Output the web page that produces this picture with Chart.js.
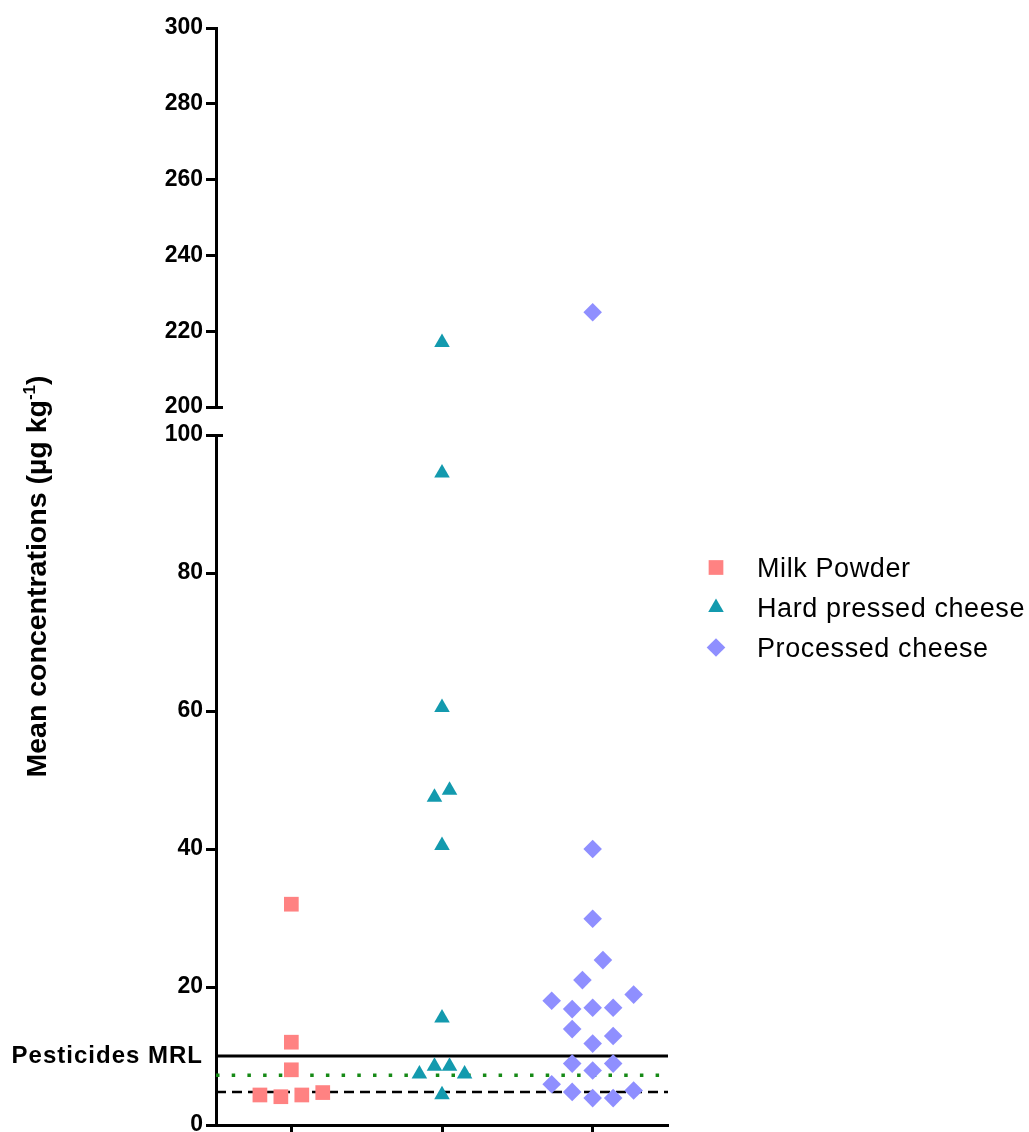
<!DOCTYPE html>
<html>
<head>
<meta charset="utf-8">
<title>Mean concentrations by product</title>
<script src="https://cdn.jsdelivr.net/npm/chart.js@4.4.1/dist/chart.umd.min.js"></script>
<style>
  html, body { margin: 0; padding: 0; background: #fff; }
  canvas { display: block; }
</style>
</head>
<body>
<canvas id="chart" width="1029" height="1132"></canvas>
<script>
// values (µg/kg), in sample order
const categories = ['Milk Powder', 'Hard pressed cheese', 'Processed cheese'];
const milkPowder = [32, 12, 8, 4.1, 4.35, 4.35, 4.7];
const hardPressed = [217, 94.5, 60.5, 47.5, 48.5, 40.5, 15.5, 8.5, 8.5, 7.4, 7.4, 4.4];
const processed = [225, 40, 29.9, 21.0, 23.9, 17, 17, 16.8, 18.9, 18.0,
  11.8, 12.9, 13.9, 7.9, 8.9, 8.9, 3.9, 3.9, 4.8, 5.0, 5.9];
const lowTicks = [0, 20, 40, 60, 80, 100];
const highTicks = [200, 220, 240, 260, 280, 300];
const mrl = 10;
const dottedLimit = 7.2;
const dashedLimit = 4.8;
const mrlLabel = 'Pesticides MRL';
const yTitle = 'Mean concentrations (µg kg';
const yTitleSup = '-1';

const FONT = '"Liberation Sans", Arial, Helvetica, sans-serif';
const COLORS = ['#ff8282', '#139aae', '#8f8fff'];
const SHAPES = ['rect', 'triangle', 'rectRot'];
const RADII = [10.4, 9, 9.3];
const SWARM_STEP = [0.139, 0.1, 0.136];   // horizontal spread, in category units
const ROW = 2.95;                          // values closer than this share a row

// simple column-scatter layout: points in one row are spread out from the centre
function swarm(values, cat, step) {
  const order = values.map((v, i) => i).sort((a, b) => values[a] - values[b]);
  const xs = [];
  let i = 0;
  while (i < order.length) {
    const start = values[order[i]];
    let j = i;
    while (j < order.length && values[order[j]] - start < ROW) j++;
    const row = order.slice(i, j).sort((a, b) => a - b);
    const n = row.length;
    row.forEach((idx, k) => {
      const slot = n % 2
        ? (k === 0 ? 0 : Math.ceil(k / 2) * (k % 2 ? 1 : -1))
        : (Math.floor(k / 2) + 0.5) * (k % 2 ? 1 : -1);
      xs[idx] = cat + slot * step;
    });
    i = j;
  }
  return values.map((v, idx) => ({ x: xs[idx], y: v }));
}

const lowMax = lowTicks[lowTicks.length - 1];
const highMin = highTicks[0];
const datasets = [];
[milkPowder, hardPressed, processed].forEach((vals, c) => {
  const pts = swarm(vals, c, SWARM_STEP[c]);
  const style = {
    label: categories[c],
    backgroundColor: COLORS[c],
    borderColor: COLORS[c],
    pointStyle: SHAPES[c],
    pointRadius: RADII[c],
    pointHoverRadius: RADII[c],
    pointBorderWidth: 0
  };
  datasets.push({ ...style, data: pts.filter(p => p.y <= lowMax), yAxisID: 'y' });
  datasets.push({ ...style, data: pts.filter(p => p.y >= highMin), yAxisID: 'y2' });
});

const xMin = -0.5, xMax = categories.length - 0.5;
function refLine(value, color, width, dash) {
  return {
    label: 'ref',
    data: [{ x: xMin, y: value }, { x: xMax, y: value }],
    yAxisID: 'y',
    showLine: true,
    pointRadius: 0,
    borderColor: color,
    borderWidth: width,
    borderDash: dash
  };
}
datasets.push(refLine(mrl, '#000', 3, []));
datasets.push(refLine(dottedLimit, '#168a16', 3.5, [3.5, 12.2]));
datasets.push(refLine(dashedLimit, '#000', 2.5, [10, 6]));

const yStyle = {
  type: 'linear',
  position: 'left',
  stack: 'conc',
  ticks: { font: { family: FONT, size: 23, weight: 'bold' }, color: '#000', padding: 3 },
  grid: { drawOnChartArea: false, tickLength: 10, tickWidth: 3, tickColor: '#000' },
  border: { color: '#000', width: 3 },
  afterFit: s => { s.width = 216; s.paddingTop = 0; s.paddingBottom = 0; }
};

const decor = {
  id: 'decor',
  afterDraw(chart) {
    const { ctx, chartArea, scales } = chart;
    ctx.save();

    // axis break marks
    ctx.strokeStyle = '#000';
    ctx.lineWidth = 3;
    [[scales.y2, highMin], [scales.y, lowMax]].forEach(([s, v]) => {
      const py = Math.round(s.getPixelForValue(v)) + 0.5;
      ctx.beginPath();
      ctx.moveTo(chartArea.left - 1, py);
      ctx.lineTo(chartArea.left + 7, py);
      ctx.stroke();
    });

    // MRL label
    ctx.fillStyle = '#000';
    ctx.font = `bold 24px ${FONT}`;
    ctx.letterSpacing = '1px';
    ctx.textAlign = 'right';
    ctx.textBaseline = 'middle';
    ctx.fillText(mrlLabel, chartArea.left - 13, scales.y.getPixelForValue(mrl));
    ctx.letterSpacing = '0px';

    // y axis title with superscript
    ctx.save();
    ctx.translate(36, (chartArea.top + chartArea.bottom) / 2);
    ctx.rotate(-Math.PI / 2);
    ctx.textAlign = 'left';
    ctx.textBaseline = 'alphabetic';
    const mainFont = `bold 28.5px ${FONT}`, supFont = `bold 17px ${FONT}`;
    ctx.font = mainFont;
    const w1 = ctx.measureText(yTitle).width, w3 = ctx.measureText(')').width;
    ctx.font = supFont;
    const w2 = ctx.measureText(yTitleSup).width;
    let x = -(w1 + w2 + w3) / 2;
    const base = 10;
    ctx.font = mainFont;
    ctx.fillText(yTitle, x, base);
    x += w1;
    ctx.font = supFont;
    ctx.fillText(yTitleSup, x, base - 11);
    x += w2;
    ctx.font = mainFont;
    ctx.fillText(')', x, base);
    ctx.restore();

    // legend
    const mid = (chartArea.top + chartArea.bottom) / 2 + 31;
    ctx.font = `27px ${FONT}`;
    ctx.letterSpacing = '0.6px';
    ctx.textAlign = 'left';
    ctx.textBaseline = 'alphabetic';
    categories.forEach((c, i) => {
      const y = mid + (i - 1) * 40;
      ctx.fillStyle = COLORS[i];
      Chart.helpers.drawPoint(ctx, { pointStyle: SHAPES[i], radius: RADII[i], rotation: 0, borderWidth: 0 },
        chartArea.right + 48, y);
      ctx.fillStyle = '#000';
      ctx.fillText(c, chartArea.right + 89, y + 9.5);
    });
    ctx.restore();
  }
};

new Chart(document.getElementById('chart'), {
  type: 'scatter',
  data: { datasets },
  options: {
    responsive: false,
    animation: false,
    layout: { autoPadding: false, padding: { top: 28, right: 361, bottom: 0, left: 0 } },
    plugins: { legend: { display: false }, tooltip: { enabled: false } },
    scales: {
      x: {
        type: 'linear',
        min: xMin,
        max: xMax,
        afterBuildTicks: s => { s.ticks = categories.map((c, i) => ({ value: i })); },
        ticks: { display: false },
        grid: { drawOnChartArea: false, tickLength: 8, tickWidth: 3, tickColor: '#000' },
        border: { color: '#000', width: 3 },
        afterFit: s => { s.height = 7; }
      },
      y: {
        ...yStyle,
        min: lowTicks[0],
        max: lowMax,
        stackWeight: 690,
        afterBuildTicks: s => { s.ticks = lowTicks.map(v => ({ value: v })); }
      },
      ygap: {
        type: 'linear',
        position: 'left',
        stack: 'conc',
        stackWeight: 28,
        min: lowMax,
        max: highMin,
        ticks: { display: false },
        grid: { display: false },
        border: { display: false },
        afterFit: s => { s.width = 216; s.paddingTop = 0; s.paddingBottom = 0; }
      },
      y2: {
        ...yStyle,
        min: highMin,
        max: highTicks[highTicks.length - 1],
        stackWeight: 379,
        afterBuildTicks: s => { s.ticks = highTicks.map(v => ({ value: v })); }
      }
    }
  },
  plugins: [decor]
});
</script>
</body>
</html>
